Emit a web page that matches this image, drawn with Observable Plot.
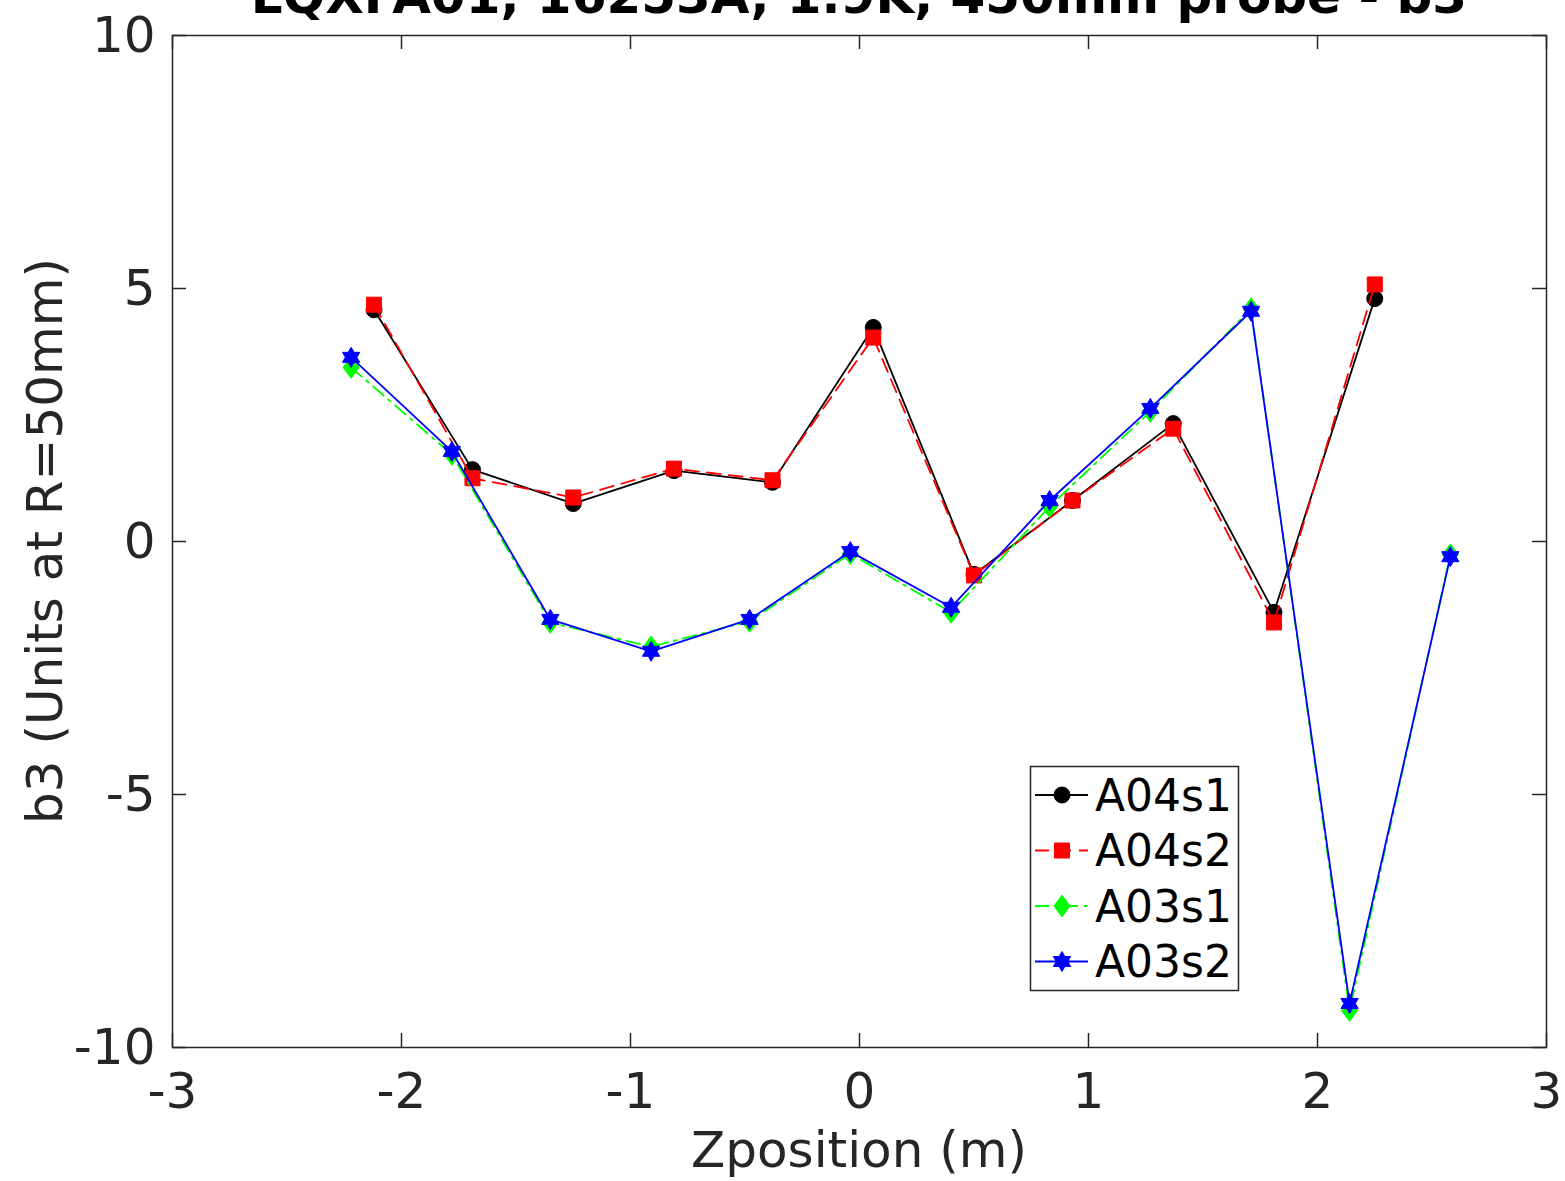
<!DOCTYPE html>
<html><head><meta charset="utf-8">
<script src="https://cdn.jsdelivr.net/npm/d3@7"></script>
<script src="https://cdn.jsdelivr.net/npm/@observablehq/plot@0.6"></script>
<style>
html,body{margin:0;padding:0;background:#fff;}
#chart{width:1565px;height:1181px;overflow:hidden;}
</style></head><body><div id="chart"></div>
<script>
const title = "LQXFA01, 16253A, 1.9K, 450mm probe - b3";
const xLabel = "Zposition (m)";
const yLabel = "b3 (Units at R=50mm)";
const xTicks = [-3, -2, -1, 0, 1, 2, 3];
const yTicks = [-10, -5, 0, 5, 10];
const seriesNames = ["A04s1", "A04s2", "A03s1", "A03s2"];

const zA04 = [-2.12, -1.69, -1.25, -0.81, -0.38, 0.06, 0.50, 0.93, 1.37, 1.81, 2.25];
const a04s1 = [4.58, 1.42, 0.75, 1.40, 1.17, 4.23, -0.65, 0.81, 2.33, -1.40, 4.80];
const a04s2 = [4.68, 1.25, 0.87, 1.44, 1.21, 4.03, -0.67, 0.81, 2.23, -1.60, 5.08];

const zA03 = [-2.22, -1.78, -1.35, -0.91, -0.48, -0.04, 0.40, 0.83, 1.27, 1.71, 2.14, 2.58];
const a03s1 = [3.44, 1.72, -1.60, -2.08, -1.58, -0.24, -1.40, 0.69, 2.57, 4.60, -9.27, -0.26];
const a03s2 = [3.64, 1.78, -1.54, -2.17, -1.54, -0.20, -1.30, 0.81, 2.63, 4.55, -9.13, -0.30];

// custom marker shapes
const symCircle = {draw(ctx, size) { const r = Math.sqrt(size / Math.PI); ctx.moveTo(r, 0); ctx.arc(0, 0, r, 0, 2 * Math.PI); ctx.closePath(); }};
const symSquare = {draw(ctx, size) { const r = Math.sqrt(size / Math.PI); ctx.rect(-r, -r, 2 * r, 2 * r); }};
const symDiamond = {draw(ctx, size) { const r = Math.sqrt(size / Math.PI); ctx.moveTo(0, -r * 1.35); ctx.lineTo(r, 0); ctx.lineTo(0, r * 1.35); ctx.lineTo(-r, 0); ctx.closePath(); }};
const symHexagram = {draw(ctx, size) {
  const R = Math.sqrt(size / Math.PI) * 1.25, ri = R / Math.sqrt(3);
  for (let i = 0; i < 12; i++) {
    const a = i * Math.PI / 6 - Math.PI / 2, rr = i % 2 === 0 ? R : ri;
    const px = rr * Math.cos(a), py = rr * Math.sin(a);
    if (i === 0) ctx.moveTo(px, py); else ctx.lineTo(px, py);
  }
  ctx.closePath();
}};

const rows = (z, v, name) => z.map((x, i) => ({z: x, v: v[i], name}));
const series = [
  {name: seriesNames[0], data: rows(zA04, a04s1, seriesNames[0]), color: "#000000", dash: null, symbol: symCircle, r: 8},
  {name: seriesNames[1], data: rows(zA04, a04s2, seriesNames[1]), color: "#ff0000", dash: "14,8", symbol: symSquare, r: 7.5},
  {name: seriesNames[2], data: rows(zA03, a03s1, seriesNames[2]), color: "#00ff00", dash: "14,6,3,6", symbol: symDiamond, r: 8},
  {name: seriesNames[3], data: rows(zA03, a03s2, seriesNames[3]), color: "#0000ff", dash: null, symbol: symHexagram, r: 8}
];

const W = 1565, H = 1181, mL = 172, mR = 19, mT = 35, mB = 134;
const fw = W - mL - mR, fh = H - mT - mB, tk = 14;
const axisColor = "#262626";
const fs = 50;

const marks = [];
for (const s of series) {
  marks.push(Plot.line(s.data, {x: "z", y: "v", stroke: s.color, strokeWidth: 1.8, strokeDasharray: s.dash}));
  marks.push(Plot.dot(s.data, {x: "z", y: "v", symbol: s.symbol, r: s.r, fill: s.color, stroke: s.color, strokeWidth: 1}));
}

const chart = Plot.plot({
  width: W, height: H,
  marginLeft: mL, marginRight: mR, marginTop: mT, marginBottom: mB,
  style: {fontFamily: "DejaVu Sans", fontSize: fs + "px", color: axisColor, background: "#fff"},
  x: {domain: [-3, 3]},
  y: {domain: [-10, 10]},
  marks: [
    ...marks,
    Plot.ruleX(xTicks, {x: d => d, insetTop: fh - tk, stroke: axisColor, strokeWidth: 1.5}),
    Plot.ruleX(xTicks, {x: d => d, insetBottom: fh - tk, stroke: axisColor, strokeWidth: 1.5}),
    Plot.ruleY(yTicks, {y: d => d, insetRight: fw - tk, stroke: axisColor, strokeWidth: 1.5}),
    Plot.ruleY(yTicks, {y: d => d, insetLeft: fw - tk, stroke: axisColor, strokeWidth: 1.5}),
    Plot.frame({stroke: axisColor, strokeWidth: 1.5}),
    Plot.axisX(xTicks, {tickSize: 0, tickPadding: 25, tickFormat: d => String(d), label: null, fontSize: fs, fill: axisColor}),
    Plot.axisY(yTicks, {tickSize: 0, tickPadding: 17, tickFormat: d => String(d), label: null, fontSize: fs, fill: axisColor})
  ]
});

document.getElementById("chart").appendChild(chart);
const svg = d3.select(chart);

svg.append("text").attr("x", mL + fw / 2).attr("y", 13).attr("text-anchor", "middle")
  .attr("font-size", 50).attr("font-weight", "bold").attr("fill", "#000").text(title);
svg.append("text").attr("x", mL + fw / 2).attr("y", 1167).attr("text-anchor", "middle")
  .attr("font-size", fs).attr("fill", axisColor).text(xLabel);
svg.append("text").attr("transform", `translate(62,${mT + fh / 2}) rotate(-90)`).attr("text-anchor", "middle")
  .attr("font-size", fs).attr("fill", axisColor).text(yLabel);

// legend
const lg = svg.append("g");
lg.append("rect").attr("x", 1030.5).attr("y", 766.5).attr("width", 208).attr("height", 224)
  .attr("fill", "#fff").attr("stroke", axisColor).attr("stroke-width", 1.5);
series.forEach((s, i) => {
  const cy = 795 + i * 55.5;
  lg.append("line").attr("x1", 1035).attr("x2", 1088).attr("y1", cy).attr("y2", cy)
    .attr("stroke", s.color).attr("stroke-width", 1.8).attr("stroke-dasharray", s.dash);
  const p = d3.path(); s.symbol.draw(p, Math.PI * s.r * s.r);
  lg.append("path").attr("d", p.toString()).attr("transform", `translate(1062,${cy})`)
    .attr("fill", s.color).attr("stroke", s.color);
  lg.append("text").attr("x", 1095).attr("y", cy).attr("dy", "0.36em").attr("font-size", 44)
    .attr("text-anchor", "start").attr("fill", "#000").text(s.name);
});
</script></body></html>
